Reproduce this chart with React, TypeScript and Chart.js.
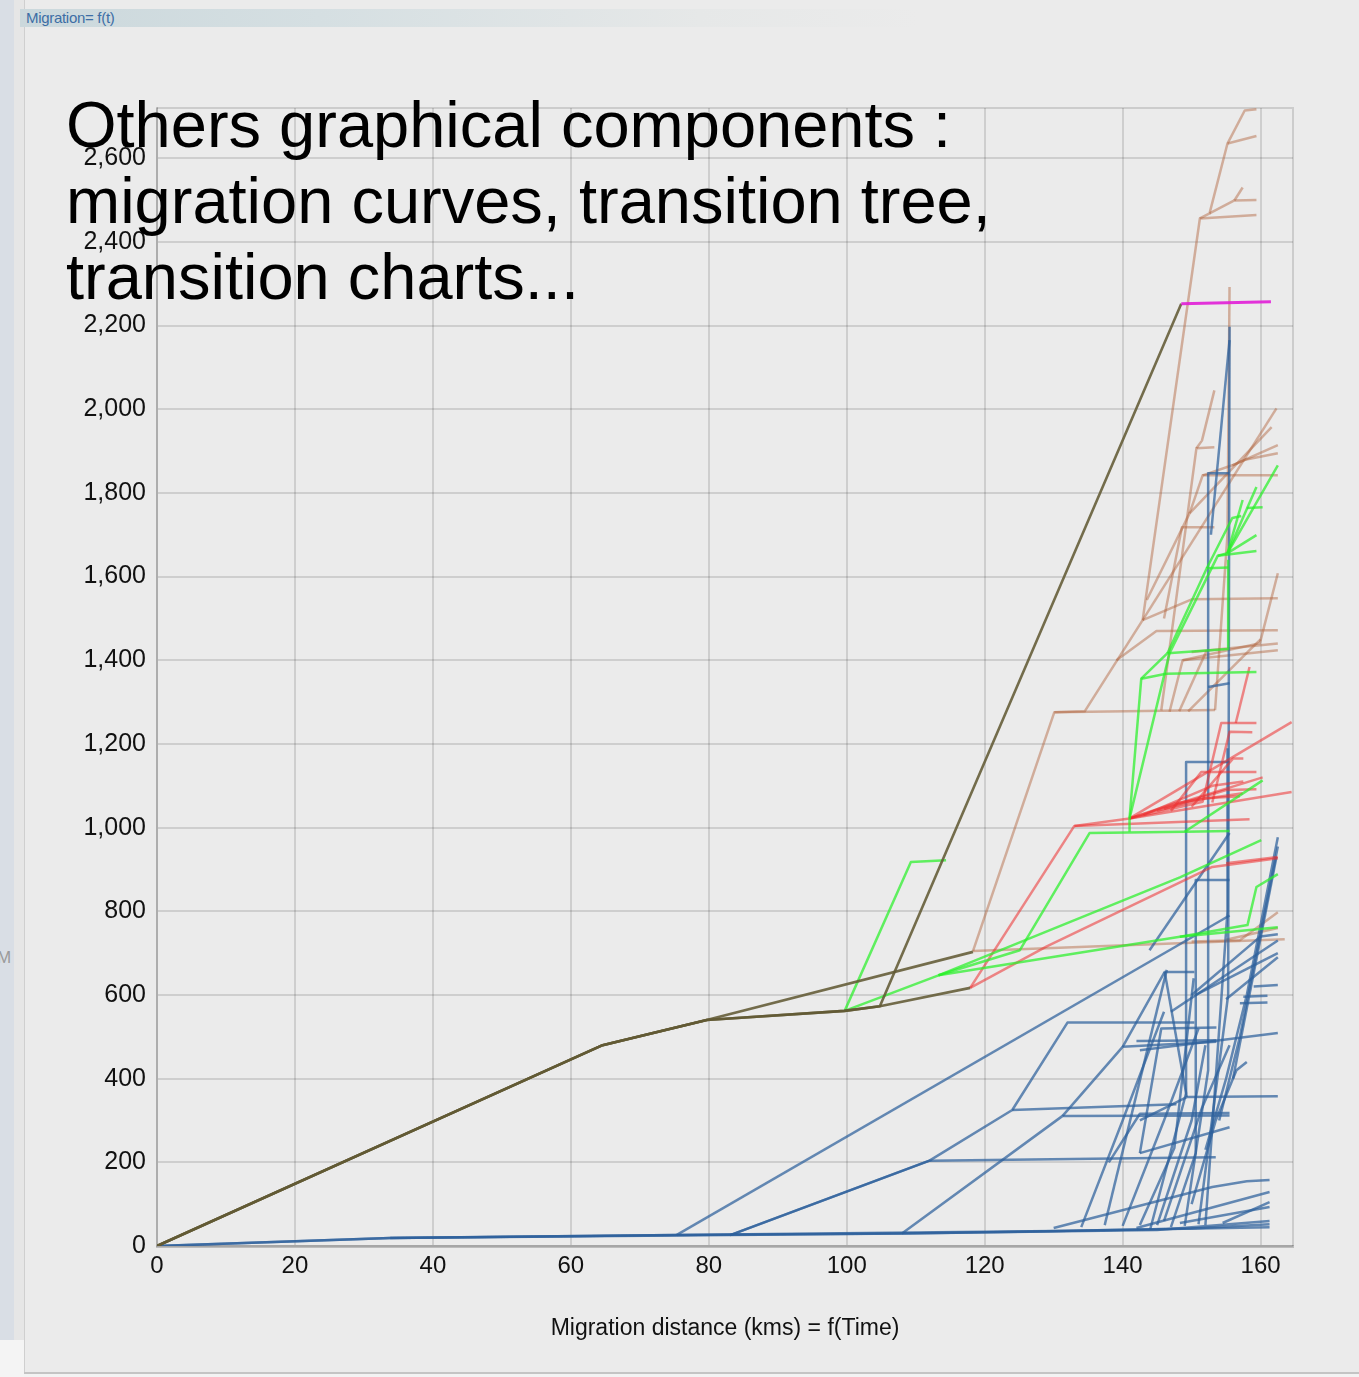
import React, { useEffect, useRef } from "react";
import { Chart, registerables } from "chart.js";

Chart.register(...registerables);

type Pt = [number, number];

// ---- axis ticks ----
const xTicks = [0, 20, 40, 60, 80, 100, 120, 140, 160];
const yTicks = [0, 200, 400, 600, 800, 1000, 1200, 1400, 1600, 1800, 2000, 2200, 2400, 2600];
const xMax = 164.7;
const yMax = 2720;

const chartTitle = "Migration= f(t)";
const xAxisTitle = "Migration distance (kms) = f(Time)";
const overlayLines = ["Others graphical components :", "migration curves, transition tree,", "transition charts..."];

// ---- series (x = distance, y = value) ----
const oliveCurves: Pt[][] = [
  [[0, 0], [64.6, 480], [79.7, 540], [99.7, 562], [104.8, 573], [148.5, 2252]],
  [[0, 0], [64.6, 480], [79.7, 540], [118.3, 703]],
  [[0, 0], [64.6, 480], [79.7, 540], [99.7, 562], [104.8, 573], [117.9, 617]],
];

const magentaCurves: Pt[][] = [
  [[148.5, 2252], [161.5, 2257]],
];

const greenCurves: Pt[][] = [
  [[99.7, 562], [109.3, 918], [114.4, 922]],
  [[99.7, 562], [113.3, 647], [125.1, 707], [135.2, 987], [149, 990], [155.5, 992]],
  [[113.3, 647], [148.3, 881], [160.1, 970]],
  [[113.3, 647], [148.3, 739], [162.5, 762]],
  [[148.3, 739], [158.1, 767], [159.4, 858], [162.5, 889]],
  [[149, 990], [160.3, 1113]],
  [[141, 990], [141, 1022], [142.7, 1356], [146.5, 1417], [155.3, 1427], [155.3, 1640]],
  [[146.5, 1417], [152.2, 1620], [155.3, 1622]],
  [[142.7, 1356], [146.3, 1368], [159.4, 1372]],
  [[141, 1022], [146.8, 1417], [153.8, 1650], [155.2, 1656], [162.5, 1866]],
  [[155.2, 1656], [159.4, 1814]],
  [[155.2, 1656], [157.4, 1783]],
  [[158, 1764], [160.3, 1766]],
  [[155.2, 1656], [159.4, 1699]],
  [[153.8, 1650], [159.4, 1661]],
  [[152.2, 1620], [155.9, 1740], [157.2, 1745]],
];

const redCurves: Pt[][] = [
  [[117.9, 617], [133, 1004], [158.4, 1020]],
  [[117.9, 617], [129, 716], [153, 906], [162.5, 927]],
  [[155, 915], [162.5, 930]],
  [[133, 1004], [141, 1022], [147.5, 1058], [157.4, 1082]],
  [[141, 1022], [151.6, 1062], [154.3, 1250], [159.4, 1250]],
  [[141, 1022], [160.3, 1120]],
  [[141, 1022], [164.5, 1252]],
  [[141, 1022], [164.5, 1085]],
  [[147, 1040], [151.4, 1133], [159.4, 1133]],
  [[145, 1040], [152, 1070], [157, 1075]],
  [[146, 1045], [155, 1090], [159.4, 1092]],
  [[156.4, 1250], [158.4, 1384]],
  [[153, 1060], [155.5, 1229], [158.8, 1228]],
  [[143, 1030], [153, 1100], [157.5, 1110]],
  [[150, 1050], [156, 1165], [157.5, 1165]],
];

const blueCurves: Pt[][] = [
  [[0, 0], [33.8, 19], [75.3, 26], [108, 30], [125, 34], [150, 42], [161.3, 52]],
  [[0, 0], [33.8, 19], [75.3, 26], [130, 36], [161.3, 45]],
  [[33.8, 19], [108, 30], [145, 38], [161.3, 60]],
  [[75.3, 26], [155.5, 790]],
  [[83.1, 26], [112, 204], [153.5, 212]],
  [[83.1, 26], [112, 204], [124, 325], [132, 534], [150.4, 534]],
  [[124, 325], [147.8, 339]],
  [[108, 30], [131.3, 311], [155.5, 312]],
  [[130, 43], [153, 141], [158, 155], [161.3, 158]],
  [[142, 43], [161.3, 129]],
  [[154.5, 55], [161.3, 105]],
  [[148.3, 55], [161.3, 93]],
  [[137.4, 50], [146.4, 660]],
  [[142.5, 50], [147.5, 234], [150.3, 640]],
  [[134, 45], [140, 300], [146, 560]],
  [[140, 48], [146, 300], [151, 520]],
  [[145, 50], [150, 300], [152, 480]],
  [[146, 60], [151.5, 330], [155.5, 480]],
  [[150, 100], [153.5, 300], [156.5, 420], [158, 440]],
  [[131.3, 311], [140, 476], [153.6, 488]],
  [[140, 476], [146.1, 655], [150.4, 655]],
  [[142.5, 222], [155.5, 284]],
  [[142.5, 300], [149.3, 356], [162.5, 358]],
  [[149.3, 356], [146.1, 655]],
  [[142.5, 468], [162.5, 509]],
  [[142.5, 222], [145.6, 520], [153.6, 522]],
  [[142, 490], [153.6, 492]],
  [[138, 200], [142.5, 316], [155.5, 318]],
  [[152, 230], [155, 400], [158, 600], [162.5, 977]],
  [[154, 300], [157, 500], [162.5, 955]],
  [[156, 400], [162.3, 930]],
  [[150, 600], [160, 740], [162.5, 745]],
  [[147, 560], [162.5, 730]],
  [[150.6, 600], [162.5, 700]],
  [[155, 590], [162.5, 690]],
  [[159, 620], [162.5, 624]],
  [[157, 580], [161, 582]],
  [[157.5, 596], [161, 598]],
  [[144, 40], [149.2, 365], [149.2, 1157], [155.5, 1157]],
  [[147, 45], [150.6, 222], [150.6, 875], [155.5, 875]],
  [[149, 48], [152.4, 420], [152.4, 1847], [155.5, 1847]],
  [[151, 52], [155.3, 600], [155.5, 2197]],
  [[152.8, 1700], [155.5, 2165]],
  [[152, 50], [155.2, 800], [155.2, 1190]],
  [[143.9, 707], [155.5, 987]],
  [[152.4, 1336], [155.5, 1345]],
];

const tanCurves: Pt[][] = [
  [[118.3, 705], [130.1, 1276], [153.4, 1281]],
  [[118.3, 705], [163.5, 733]],
  [[130.1, 1276], [134.5, 1278], [142.9, 1496], [151.2, 2456], [159.4, 2464]],
  [[142.9, 1496], [162.3, 2002]],
  [[139.1, 1400], [144.9, 1470], [162.5, 1472]],
  [[142.9, 1496], [150.1, 1546], [162.5, 1548]],
  [[148.7, 1400], [159.9, 1441], [162.5, 1608]],
  [[150, 1420], [162.5, 1440]],
  [[146.8, 1277], [148.7, 1400], [162.5, 1424]],
  [[146, 1500], [148.6, 1718], [153.3, 1718]],
  [[145.6, 1280], [150.7, 1907], [153.3, 1909]],
  [[150.7, 1907], [151.5, 1925], [153.3, 2045]],
  [[143.5, 1544], [149.7, 1751], [161.6, 1957]],
  [[149.7, 1751], [151.6, 1842], [162.5, 1842]],
  [[151.6, 1842], [155.9, 1866], [162.5, 1914]],
  [[155.9, 1866], [157.9, 1880], [162.5, 1895]],
  [[153.4, 1281], [155.2, 1700], [155.5, 2292]],
  [[148.2, 1278], [152.2, 1424]],
  [[149.5, 1278], [158.4, 1424], [160, 1450]],
  [[151.2, 2456], [152.6, 2468], [155.2, 2635], [157.7, 2714], [159.4, 2717]],
  [[155.2, 2635], [159.4, 2653]],
  [[152.6, 2468], [156.2, 2499], [159.4, 2500]],
  [[156.2, 2499], [157.4, 2530]],
  [[150, 728], [157, 731], [162.5, 798]],
  [[155, 732], [162.5, 760]],
];

const FONT = '"Liberation Sans", Arial, Helvetica, sans-serif';

const frame = {
  id: "frame",
  beforeDatasetsDraw(chart: any) {
    const { ctx, chartArea } = chart;
    const { left, top, right, bottom } = chartArea;
    ctx.save();
    ctx.strokeStyle = "rgba(0,0,0,0.13)";
    ctx.lineWidth = 2;
    ctx.beginPath();
    ctx.moveTo(left, top);
    ctx.lineTo(right, top);
    ctx.lineTo(right, bottom);
    ctx.stroke();
    ctx.restore();
  },
};

export default function App() {
  const ref = useRef<HTMLCanvasElement>(null);

  useEffect(() => {
    const canvas = ref.current;
    if (!canvas) return;
    const groups = [
      { curves: magentaCurves, color: "rgba(225,30,215,0.9)", width: 3 },
      { curves: oliveCurves, color: "rgba(98,90,52,0.88)", width: 2.6 },
      { curves: greenCurves, color: "rgba(40,240,40,0.72)", width: 2.5 },
      { curves: redCurves, color: "rgba(236,45,45,0.55)", width: 2.5 },
      { curves: blueCurves, color: "rgba(45,95,155,0.72)", width: 2.5 },
      { curves: tanCurves, color: "rgba(175,95,55,0.45)", width: 2.5 },
    ];
    const datasets: any[] = [];
    groups.forEach((g) => {
      g.curves.forEach((c) => {
        datasets.push({
          data: c.map(([x, y]) => ({ x, y })),
          borderColor: g.color,
          borderWidth: g.width,
          pointRadius: 0,
          pointHoverRadius: 0,
          fill: false,
          tension: 0,
          borderJoinStyle: "round",
          borderCapStyle: "butt",
        });
      });
    });

    const chart = new Chart(canvas, {
      type: "line",
      data: { datasets },
      options: {
        animation: false,
        responsive: false,
        devicePixelRatio: 1,
        events: [],
        layout: { padding: { left: 0, top: 108, right: 66, bottom: 0 } },
        plugins: { legend: { display: false }, tooltip: { enabled: false }, title: { display: false } },
        scales: {
          x: {
            type: "linear",
            min: 0,
            max: xMax,
            afterFit: (s: any) => { s.height = 131; },
            afterBuildTicks: (s: any) => { s.ticks = xTicks.map((v) => ({ value: v })); },
            grid: { color: "rgba(0,0,0,0.12)", lineWidth: 2, drawTicks: false },
            border: { display: true, color: "rgba(0,0,0,0.2)", width: 3 },
            ticks: {
              color: "#111",
              font: { family: FONT, size: 24 },
              padding: 6,
              maxRotation: 0,
              autoSkip: false,
              callback: (v: any) => String(v),
            },
            title: {
              display: true,
              text: xAxisTitle,
              color: "#111",
              font: { family: FONT, size: 23 },
              padding: { top: 0, bottom: 35 },
            },
          },
          y: {
            type: "linear",
            min: 0,
            max: yMax,
            afterFit: (s: any) => { s.width = 157; },
            afterBuildTicks: (s: any) => { s.ticks = yTicks.map((v) => ({ value: v })); },
            grid: { color: "rgba(0,0,0,0.12)", lineWidth: 2, drawTicks: false },
            border: { display: true, color: "rgba(0,0,0,0.16)", width: 2 },
            ticks: {
              color: "#111",
              font: { family: FONT, size: 25 },
              padding: 11,
              autoSkip: false,
              callback: (v: any) => Number(v).toLocaleString("en-US"),
            },
          },
        },
      },
      plugins: [frame],
    } as any);
    return () => chart.destroy();
  }, []);

  return (
    <div
      style={{
        position: "absolute",
        left: 0,
        top: 0,
        width: 1359,
        height: 1377,
        overflow: "hidden",
        background: "#ebebeb",
        fontFamily: FONT,
      }}
    >
      {/* left window strip */}
      <div style={{ position: "absolute", left: 0, top: 0, width: 14, height: 1377, background: "#d9dee5" }} />
      <div style={{ position: "absolute", left: 14, top: 0, width: 10, height: 1377, background: "#e6e6e6", borderRight: "1px solid #cfcfcf" }} />
      <div style={{ position: "absolute", left: 0, top: 1340, width: 24, height: 37, background: "#f4f4f4" }} />
      <div style={{ position: "absolute", left: -3, top: 948, fontSize: 17, color: "#9a9a9a", lineHeight: "20px" }}>M</div>
      {/* title bar */}
      <div
        style={{
          position: "absolute",
          left: 20,
          top: 9,
          width: 1339,
          height: 18,
          background: "linear-gradient(to right, #cbd8dc 0px, #d5dfe2 300px, #e6e8e8 680px, #ebebeb 900px)",
        }}
      />
      <div style={{ position: "absolute", left: 26, top: 9, height: 18, lineHeight: "18px", fontSize: 15, color: "#3d6ea5", letterSpacing: "-0.3px" }}>
        {chartTitle}
      </div>
      {/* bottom border */}
      <div style={{ position: "absolute", left: 24, top: 1372, width: 1335, height: 5, background: "#f3f3f3", borderTop: "2px solid #c4c4c4" }} />
      <canvas ref={ref} width={1359} height={1377} style={{ position: "absolute", left: 0, top: 0, display: "block" }} />
      <div
        style={{
          position: "absolute",
          left: 66,
          top: 87,
          fontSize: 65,
          lineHeight: "76px",
          color: "#000",
          whiteSpace: "pre",
          pointerEvents: "none",
        }}
      >
        {overlayLines.map((l, i) => (
          <div key={i}>{l}</div>
        ))}
      </div>
    </div>
  );
}
